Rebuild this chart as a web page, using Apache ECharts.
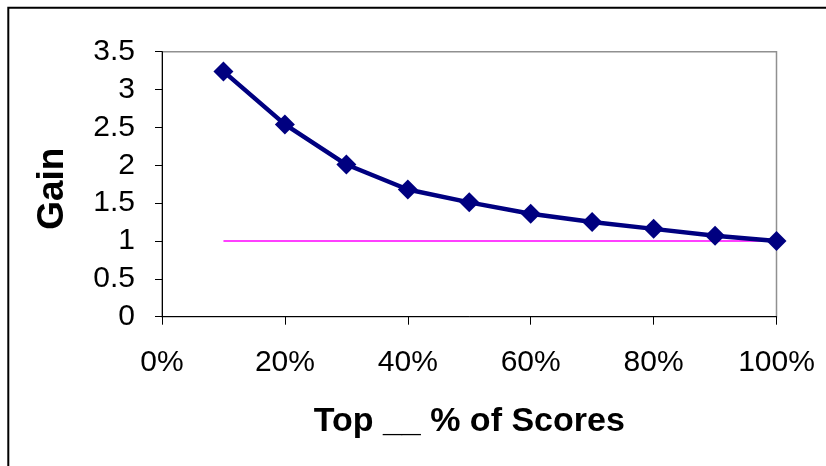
<!DOCTYPE html>
<html>
<head>
<meta charset="utf-8">
<script src="https://cdn.jsdelivr.net/npm/echarts@6/dist/echarts.min.js"></script>
<style>
  html, body { margin: 0; padding: 0; background: #fff; }
  #chart { width: 826px; height: 466px; }
</style>
</head>
<body>
<div id="chart"></div>
<script>
// Share of top-ranked scores (fraction) and the gain observed at each cut-off
const topShare = [0.1, 0.2, 0.3, 0.4, 0.5, 0.6, 0.7, 0.8, 0.9, 1.0];
const gain = [3.24, 2.54, 2.01, 1.68, 1.51, 1.36, 1.25, 1.16, 1.07, 1.0];
// Reference line: no gain (1.0) across the same range
const baselineShare = [0.1, 1.0];
const baselineGain = [1, 1];

const FONT = '"Liberation Sans", Arial, sans-serif';

const chart = echarts.init(document.getElementById('chart'), null, { renderer: 'canvas' });

chart.setOption({
  animation: false,
  backgroundColor: '#ffffff',
  grid: {
    left: 162, top: 51.7, right: 49.5, bottom: 149.3,
    show: true, borderColor: '#909090', borderWidth: 1.5, backgroundColor: 'transparent'
  },
  graphic: [{
    type: 'rect',
    shape: { x: 8.3, y: 7.7, width: 840, height: 480 },
    style: { fill: 'none', stroke: '#000', lineWidth: 2 },
    z: 100
  }],
  xAxis: {
    type: 'value', min: 0, max: 1, interval: 0.2,
    name: 'Top __ % of Scores', nameLocation: 'middle', nameGap: 88,
    nameTextStyle: { fontFamily: FONT, fontSize: 34, fontWeight: 'bold', color: '#000' },
    axisLine: { show: true, onZero: false, lineStyle: { color: '#000', width: 1 } },
    axisTick: { show: true, length: 8, lineStyle: { color: '#000', width: 1 } },
    axisLabel: {
      margin: 31, fontFamily: FONT, fontSize: 30, color: '#000',
      formatter: v => Math.round(v * 100) + '%'
    },
    splitLine: { show: false }
  },
  yAxis: {
    type: 'value', min: 0, max: 3.5, interval: 0.5,
    name: 'Gain', nameLocation: 'middle', nameGap: 91, nameRotate: 90,
    nameTextStyle: {
      fontFamily: FONT, fontSize: 37, fontWeight: 'bold', color: '#000',
      padding: [0, 9, 0, 0]
    },
    axisLine: { show: true, lineStyle: { color: '#000', width: 1 } },
    axisTick: { show: true, length: 7, lineStyle: { color: '#000', width: 1 } },
    axisLabel: { margin: 27, fontFamily: FONT, fontSize: 30, color: '#000' },
    splitLine: { show: false }
  },
  series: [
    {
      name: 'Baseline', type: 'line',
      data: baselineShare.map((x, i) => [x, baselineGain[i]]),
      symbol: 'none',
      lineStyle: { color: '#ff00ff', width: 1.5 },
      z: 2
    },
    {
      name: 'Gain', type: 'line',
      data: topShare.map((x, i) => [x, gain[i]]),
      symbol: 'diamond', symbolSize: 20,
      itemStyle: { color: '#000080' },
      lineStyle: { color: '#000080', width: 4.5 },
      z: 3
    }
  ]
});
</script>
</body>
</html>
